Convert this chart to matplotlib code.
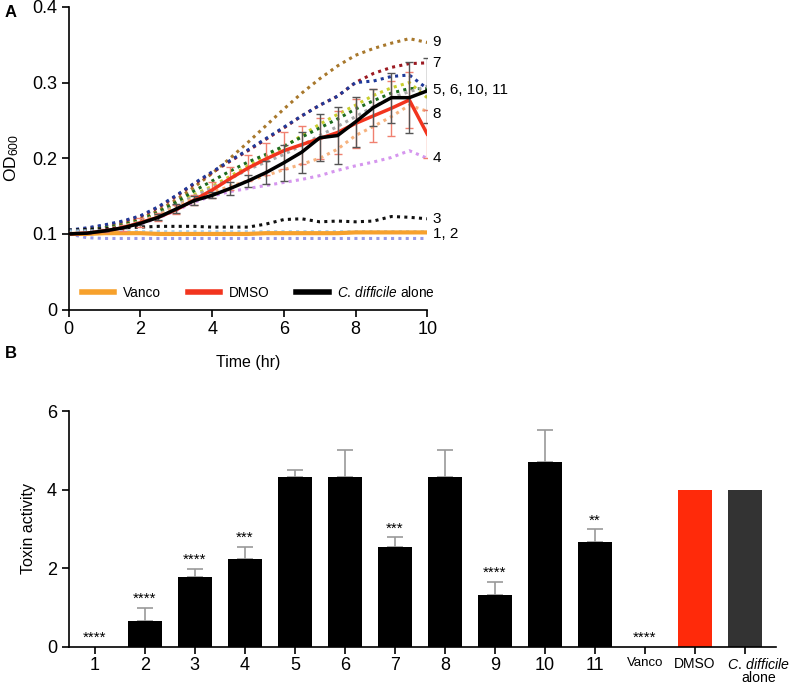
import numpy as np
import matplotlib.pyplot as plt
import matplotlib.transforms as mtransforms
from matplotlib.lines import Line2D

plt.rcParams['font.family'] = ['Liberation Sans', 'DejaVu Sans']
plt.rcParams['mathtext.fontset'] = 'custom'
plt.rcParams['mathtext.rm'] = 'Liberation Sans'
plt.rcParams['mathtext.it'] = 'Liberation Sans:italic'

# Panel A: OD600 over time
hours = np.arange(0, 10.5, 0.5)

alone = [0.100, 0.101, 0.104, 0.108, 0.114, 0.122, 0.133, 0.144, 0.151, 0.160, 0.170,
         0.181, 0.194, 0.208, 0.227, 0.230, 0.248, 0.267, 0.280, 0.280, 0.289]
alone_err = [0, 0, 0, 0, 0.002, 0.004, 0.006, 0.006, 0.004, 0.008, 0.008,
             0.015, 0.024, 0.027, 0.031, 0.038, 0.033, 0.025, 0.033, 0.047, 0.043]
dmso = [0.100, 0.101, 0.104, 0.108, 0.115, 0.122, 0.132, 0.145, 0.158, 0.173, 0.187,
        0.199, 0.210, 0.218, 0.226, 0.234, 0.246, 0.256, 0.266, 0.277, 0.232]
dmso_err = [0, 0, 0.002, 0.004, 0.006, 0.005, 0.006, 0.007, 0.010, 0.015, 0.017,
            0.021, 0.024, 0.025, 0.027, 0.028, 0.032, 0.035, 0.036, 0.037, 0.032]
vanco = [0.100, 0.100, 0.101, 0.101, 0.101, 0.100, 0.100, 0.100, 0.100, 0.100, 0.100,
         0.101, 0.101, 0.101, 0.101, 0.101, 0.102, 0.102, 0.102, 0.102, 0.102]

# compound curves (dotted)
compounds = {
    'brown': [0.100, 0.104, 0.108, 0.113, 0.120, 0.131, 0.145, 0.162, 0.180, 0.200, 0.221,
              0.243, 0.265, 0.286, 0.305, 0.322, 0.336, 0.345, 0.352, 0.358, 0.353],
    'darkred': [0.104, 0.107, 0.111, 0.116, 0.123, 0.135, 0.150, 0.166, 0.181, 0.196, 0.210,
                0.225, 0.240, 0.256, 0.270, 0.282, 0.300, 0.312, 0.320, 0.325, 0.326],
    'navy': [0.105, 0.108, 0.112, 0.117, 0.124, 0.136, 0.151, 0.167, 0.182, 0.197, 0.211,
             0.226, 0.241, 0.256, 0.270, 0.282, 0.300, 0.302, 0.308, 0.310, 0.292],
    'yellow': [0.102, 0.105, 0.108, 0.112, 0.118, 0.128, 0.140, 0.152, 0.163, 0.176, 0.190,
               0.202, 0.215, 0.230, 0.245, 0.258, 0.270, 0.283, 0.293, 0.300, 0.280],
    'green': [0.102, 0.105, 0.108, 0.112, 0.118, 0.129, 0.142, 0.157, 0.170, 0.183, 0.195,
              0.205, 0.216, 0.228, 0.240, 0.252, 0.265, 0.276, 0.286, 0.292, 0.292],
    'gray': [0.101, 0.104, 0.107, 0.110, 0.116, 0.126, 0.138, 0.150, 0.161, 0.173, 0.185,
             0.195, 0.205, 0.217, 0.230, 0.242, 0.255, 0.268, 0.280, 0.288, 0.295],
    'peach': [0.101, 0.103, 0.106, 0.110, 0.116, 0.125, 0.136, 0.147, 0.155, 0.163, 0.170,
              0.177, 0.185, 0.192, 0.200, 0.212, 0.230, 0.242, 0.255, 0.270, 0.262],
    'violet': [0.100, 0.102, 0.105, 0.108, 0.113, 0.121, 0.131, 0.142, 0.150, 0.156, 0.160,
               0.164, 0.168, 0.172, 0.177, 0.184, 0.190, 0.195, 0.201, 0.210, 0.200],
    'black': [0.105, 0.106, 0.107, 0.108, 0.109, 0.110, 0.110, 0.110, 0.109, 0.109, 0.109,
              0.113, 0.119, 0.120, 0.116, 0.117, 0.116, 0.117, 0.123, 0.122, 0.120],
    'lightblue': [0.104, 0.104, 0.104, 0.103, 0.103, 0.103, 0.103, 0.103, 0.103, 0.103, 0.103,
                  0.103, 0.103, 0.103, 0.103, 0.103, 0.103, 0.103, 0.103, 0.103, 0.103],
    'periwinkle': [0.100, 0.095, 0.094, 0.094, 0.094, 0.094, 0.094, 0.094, 0.094, 0.094, 0.094,
                   0.094, 0.094, 0.094, 0.094, 0.094, 0.094, 0.094, 0.094, 0.094, 0.094],
}
compound_colors = {
    'brown': '#a8782c', 'darkred': '#9c1a22', 'navy': '#1f3a9a', 'yellow': '#c9cf2e',
    'green': '#1d6b1d', 'gray': '#a9a9a9', 'peach': '#f6b27e', 'violet': '#d596ee',
    'black': '#111111', 'lightblue': '#a9d0f0', 'periwinkle': '#9a9ae8',
}

end_labels = ['9', '7', '5, 6, 10, 11', '8', '4', '3', '1, 2']
end_label_y = [0.353, 0.326, 0.290, 0.258, 0.200, 0.120, 0.100]

# Panel B: toxin activity
groups = ['1', '2', '3', '4', '5', '6', '7', '8', '9', '10', '11', 'Vanco', 'DMSO',
          r'$\it{C.\,difficile}$' + '\nalone']
toxin = [0, 0.66, 1.77, 2.24, 4.33, 4.33, 2.55, 4.33, 1.32, 4.70, 2.67, 0, 4.0, 4.0]
toxin_err = [0, 0.34, 0.21, 0.31, 0.16, 0.67, 0.24, 0.67, 0.33, 0.82, 0.32, 0, 0, 0]
stars = ['****', '****', '****', '***', '', '', '***', '', '****', '', '**', '****', '', '']
bar_colors = ['black'] * 12 + ['#ff2a0a', '#333333']

fig = plt.figure(figsize=(8, 6.85), dpi=100)

# ---- A ----
ax = fig.add_axes([0.086, 0.548, 0.448, 0.442])
for name, vals in compounds.items():
    ax.plot(hours, vals, linestyle=(0, (1, 1.4)), lw=2.2, color=compound_colors[name], zorder=2)
ax.plot(hours, vanco, color='#f7a12c', lw=3, zorder=3)
ax.errorbar(hours, dmso, yerr=dmso_err, color='#f2341e', lw=2.5, ecolor='#f08070',
            elinewidth=1, capsize=3, zorder=4)
ax.errorbar(hours, alone, yerr=alone_err, color='black', lw=2.5, ecolor='#555555',
            elinewidth=1, capsize=3, zorder=5)

for lab, yy in zip(end_labels, end_label_y):
    ax.text(10.15, yy, lab, fontsize=11, va='center', ha='left', clip_on=False)

ax.set_xlim(0, 10)
ax.set_ylim(0, 0.4)
ax.set_xticks([0, 2, 4, 6, 8, 10])
ax.set_yticks([0, 0.1, 0.2, 0.3, 0.4])
ax.set_yticklabels(['0', '0.1', '0.2', '0.3', '0.4'])
ax.set_xlabel('Time (hr)', fontsize=11.5, labelpad=12)
ax.set_ylabel('OD$_{600}$', fontsize=12.5, labelpad=8)
ax.spines[['top', 'right']].set_visible(False)
ax.spines[['left', 'bottom']].set_linewidth(1.2)
ax.tick_params(direction='out', length=5, width=1.2, labelsize=13)

handles = [Line2D([], [], color='#f7a12c', lw=4),
           Line2D([], [], color='#f2341e', lw=4),
           Line2D([], [], color='black', lw=4)]
ax.legend(handles, ['Vanco', 'DMSO', r'$\it{C.\,difficile}$ alone'], ncol=3,
          frameon=False, loc='center left', bbox_to_anchor=(0.036, 0.058),
          borderaxespad=0, borderpad=0, fontsize=9.8, handlelength=2.4,
          handletextpad=0.6, columnspacing=2.0)

fig.text(0.006, 0.982, 'A', fontsize=12, fontweight='bold', va='center')

# ---- B ----
bx = fig.add_axes([0.086, 0.0555, 0.884, 0.3445])
pos = np.arange(len(groups))
bx.bar(pos, toxin, width=0.68, color=bar_colors, zorder=2)
has_err = np.array(toxin_err) > 0
bx.errorbar(pos[has_err], np.array(toxin)[has_err],
            yerr=[np.zeros(has_err.sum()), np.array(toxin_err)[has_err]], fmt='none',
            ecolor='#999999', elinewidth=1.2, capsize=6, capthick=1.2, zorder=1)
for p, v, e, s in zip(pos, toxin, toxin_err, stars):
    if s:
        bx.text(p, v + e + 0.05, s, ha='center', va='bottom', fontsize=11)

bx.set_xlim(-0.52, 13.62)
bx.set_ylim(0, 6)
bx.set_yticks([0, 2, 4, 6])
bx.set_xticks(pos)
bx.set_xticklabels(groups, linespacing=0.95)
bx.spines[['top', 'right']].set_visible(False)
bx.spines[['left', 'bottom']].set_linewidth(1.2)
bx.tick_params(direction='out', length=5, width=1.2, labelsize=13)
bx.tick_params(axis='x', pad=2)
small_sizes = {11: 9.5, 12: 10, 13: 10.2}
for i, t in enumerate(bx.get_xticklabels()):
    if i in small_sizes:
        t.set_fontsize(small_sizes[i])
# the last label sits a little to the right of its bar
last = bx.get_xticklabels()[-1]
last.set_transform(last.get_transform() +
                   mtransforms.ScaledTranslation(14 / 100, 0, fig.dpi_scale_trans))
bx.set_ylabel('Toxin activity', fontsize=11.5, labelpad=8)

fig.text(0.006, 0.484, 'B', fontsize=12, fontweight='bold', va='center')

fig.savefig('out.png', dpi=100)
